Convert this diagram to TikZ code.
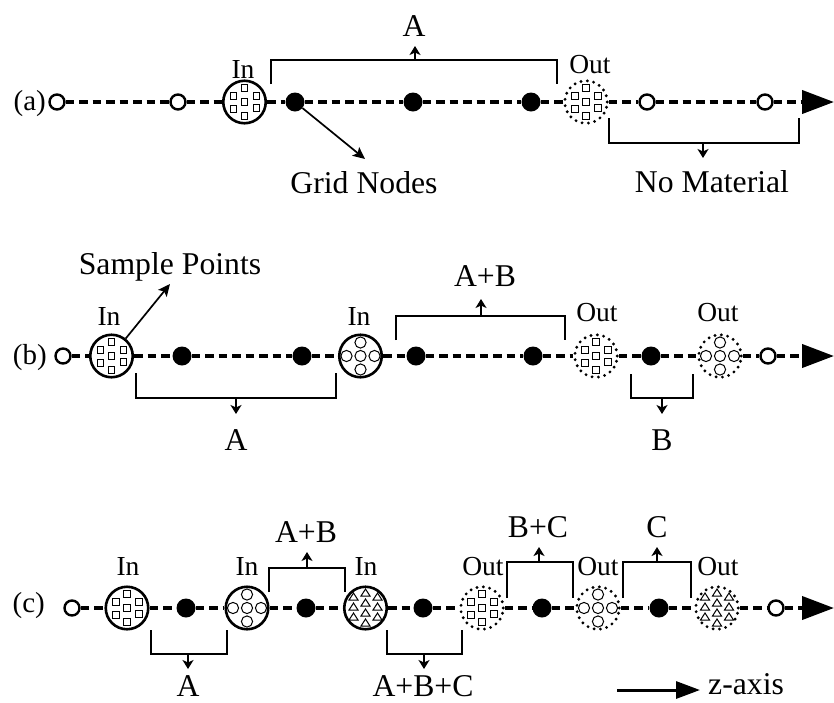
\documentclass[tikz,border=0pt]{standalone}
\usepackage{fontspec}
\setmainfont{Liberation Serif}
\usetikzlibrary{arrows.meta}
\tikzset{
  opennode/.style={circle,draw,line width=2.4pt,fill=white,minimum size=15pt,inner sep=0pt},
  gridnode/.style={circle,fill=black,minimum size=19pt,inner sep=0pt},
  innode/.style={circle,draw,line width=2.6pt,fill=white,minimum size=42.5pt,inner sep=0pt},
  outnode/.style={circle,draw,line width=3.2pt,dash pattern=on 0pt off 6.4pt,line cap=round,fill=white,minimum size=42.5pt,inner sep=0pt},
  axisline/.style={line width=4pt,dash pattern=on 8.5pt off 5pt},
  axisend/.style={axisline,-{Triangle[length=32pt,width=23pt]}},
  bracket/.style={line width=1.7pt},
  brarrow/.style={line width=1.7pt,-{Stealth[length=9pt,width=11pt,inset=2.5pt]}},
  ptr/.style={line width=1.7pt,-{Stealth[length=12pt,width=11pt,inset=2.5pt]}},
  lab/.style={font=\fontsize{31.7}{38}\selectfont,inner sep=0pt,anchor=base},
  iolab/.style={font=\fontsize{27.5}{32}\selectfont,inner sep=0pt,anchor=base},
  rowlab/.style={font=\fontsize{29}{34}\selectfont,inner sep=0pt,anchor=east},
  pat/.style={line width=1pt},
}
\newcommand\SqPat[1]{\foreach \dx/\dy in {0/-14,-11/-6,12/-6,0/0,-11/7,12/6,0/14}{\draw[pat] ([shift={(\dx,\dy)}]#1.center) +(-3.4,-3.4) rectangle +(3.4,3.4);}}
\newcommand\CiPat[1]{\foreach \dx/\dy in {0/0,-14/0,14/0,0/-13.5,0/13.5}{\draw[pat] ([shift={(\dx,\dy)}]#1.center) circle (5.6pt);}}
\newcommand\TriPat[1]{\foreach \dx/\dy in {0/-15,0/-5,0/5,0/15,-12/-11,12/-11,-12/-1,12/-1,-12/9,12/9}{\draw[pat] ([shift={(\dx,\dy)}]#1.center) +(-4.5,3) -- +(4.5,3) -- +(0,-4) -- cycle;}}
\begin{document}
\begin{tikzpicture}[x=1pt,y=-1pt]
\useasboundingbox (0,0) rectangle (834,702);
%% ---------------- row (a)
\node[rowlab] (la) at (46,104) {(a)};
\node[opennode] (a1) at (57,102) {};
\node[opennode] (a2) at (178,102) {};
\node[innode] (a3) at (244.5,102) {};
\node[gridnode] (a4) at (295,102) {};
\node[gridnode] (a5) at (413,102) {};
\node[gridnode] (a6) at (531,102) {};
\node[outnode] (a7) at (586,102) {};
\node[opennode] (a8) at (647,102) {};
\node[opennode] (a9) at (765,102) {};
\coordinate (aend) at (834,102);
\draw[axisline] (a1) -- (a2);
\draw[axisline] (a2) -- (a3);
\draw[axisline] (a3) -- (a4);
\draw[axisline] (a4) -- (a5);
\draw[axisline] (a5) -- (a6);
\draw[axisline] (a6) -- (a7);
\draw[axisline] (a7) -- (a8);
\draw[axisline] (a8) -- (a9);
\draw[axisend] (a9) -- (aend);
\SqPat{a3}\SqPat{a7}
\node[iolab] (ain) at (243,78) {In};
\node[iolab] (aout) at (590,73) {Out};
% bracket A
\draw[bracket] (271,84) -- (271,60) -- (557,60) -- (557,84);
\coordinate (aAm) at (415,60); \coordinate (aAt) at (415,46);
\draw[brarrow] (aAm) -- (aAt);
\node[lab] (aA) at (414,36) {A};
% grid nodes
\coordinate (gnt) at (365,159);
\draw[ptr] (a4) -- (gnt);
\node[lab] (gn) at (364,193) {Grid Nodes};
% no material
\draw[bracket] (609,118) -- (609,143) -- (799,143) -- (799,118);
\coordinate (nmm) at (703,143); \coordinate (nmt) at (703,158);
\draw[brarrow] (nmm) -- (nmt);
\node[lab] (nm) at (712,192) {No Material};
%% ---------------- row (b)
\node[rowlab] (lb) at (47,358) {(b)};
\node[opennode] (b1) at (63,356) {};
\node[innode] (b2) at (111.5,356) {};
\node[gridnode] (b3) at (182,356) {};
\node[gridnode] (b4) at (302,356) {};
\node[innode] (b5) at (360.5,356) {};
\node[gridnode] (b6) at (416,356) {};
\node[gridnode] (b7) at (533,356) {};
\node[outnode] (b8) at (596,356) {};
\node[gridnode] (b9) at (651,356) {};
\node[outnode] (b10) at (720,356) {};
\node[opennode] (b11) at (768,356) {};
\coordinate (bend) at (834,356);
\draw[axisline] (b1) -- (b2);
\draw[axisline] (b2) -- (b3);
\draw[axisline] (b3) -- (b4);
\draw[axisline] (b4) -- (b5);
\draw[axisline] (b5) -- (b6);
\draw[axisline] (b6) -- (b7);
\draw[axisline] (b7) -- (b8);
\draw[axisline] (b8) -- (b9);
\draw[axisline] (b9) -- (b10);
\draw[axisline] (b10) -- (b11);
\draw[axisend] (b11) -- (bend);
\SqPat{b2}\CiPat{b5}\SqPat{b8}\CiPat{b10}
\node[iolab] (bin1) at (109,325) {In};
\node[iolab] (bin2) at (359,325) {In};
\node[iolab] (bout1) at (597,321) {Out};
\node[iolab] (bout2) at (718,321) {Out};
% sample points
\coordinate (spt) at (170,284);
\draw[ptr] (b2) -- (spt);
\node[lab] (sp) at (170,274) {Sample Points};
% bracket A below
\draw[bracket] (136,373) -- (136,398) -- (336,398) -- (336,373);
\coordinate (bAm) at (236,398); \coordinate (bAt) at (236,414);
\draw[brarrow] (bAm) -- (bAt);
\node[lab] (bA) at (236,450) {A};
% bracket A+B above
\draw[bracket] (396,340) -- (396,316) -- (565,316) -- (565,340);
\coordinate (bABm) at (481,316); \coordinate (bABt) at (481,299);
\draw[brarrow] (bABm) -- (bABt);
\node[lab] (bAB) at (485,286) {A+B};
% bracket B below
\draw[bracket] (631,374) -- (631,398) -- (693,398) -- (693,374);
\coordinate (bBm) at (662,398); \coordinate (bBt) at (662,414);
\draw[brarrow] (bBm) -- (bBt);
\node[lab] (bB) at (662,450) {B};
%% ---------------- row (c)
\node[rowlab] (lc) at (45,606) {(c)};
\node[opennode] (c1) at (72,608) {};
\node[innode] (c2) at (127,608) {};
\node[gridnode] (c3) at (186,608) {};
\node[innode] (c4) at (247,608) {};
\node[gridnode] (c5) at (306,608) {};
\node[innode] (c6) at (365.5,608) {};
\node[gridnode] (c7) at (423,608) {};
\node[outnode] (c8) at (482,608) {};
\node[gridnode] (c9) at (542,608) {};
\node[outnode] (c10) at (598,608) {};
\node[gridnode] (c11) at (659,608) {};
\node[outnode] (c12) at (717,608) {};
\node[opennode] (c13) at (776,608) {};
\coordinate (cend) at (834,608);
\draw[axisline] (c1) -- (c2);
\draw[axisline] (c2) -- (c3);
\draw[axisline] (c3) -- (c4);
\draw[axisline] (c4) -- (c5);
\draw[axisline] (c5) -- (c6);
\draw[axisline] (c6) -- (c7);
\draw[axisline] (c7) -- (c8);
\draw[axisline] (c8) -- (c9);
\draw[axisline] (c9) -- (c10);
\draw[axisline] (c10) -- (c11);
\draw[axisline] (c11) -- (c12);
\draw[axisline] (c12) -- (c13);
\draw[axisend] (c13) -- (cend);
\SqPat{c2}\CiPat{c4}\TriPat{c6}\SqPat{c8}\CiPat{c10}\TriPat{c12}
\node[iolab] (cin1) at (128,575) {In};
\node[iolab] (cin2) at (247,575) {In};
\node[iolab] (cin3) at (366,575) {In};
\node[iolab] (cout1) at (483,575) {Out};
\node[iolab] (cout2) at (598,575) {Out};
\node[iolab] (cout3) at (718,575) {Out};
% A+B above
\draw[bracket] (269,592) -- (269,568) -- (345,568) -- (345,592);
\coordinate (cABm) at (307,568); \coordinate (cABt) at (307,552);
\draw[brarrow] (cABm) -- (cABt);
\node[lab] (cAB) at (306,542) {A+B};
% B+C above
\draw[bracket] (507,598) -- (507,562) -- (573,562) -- (573,598);
\coordinate (cBCm) at (539,562); \coordinate (cBCt) at (539,547);
\draw[brarrow] (cBCm) -- (cBCt);
\node[lab] (cBC) at (538,537) {B+C};
% C above
\draw[bracket] (623,598) -- (623,562) -- (691,562) -- (691,598);
\coordinate (cCm) at (657,562); \coordinate (cCt) at (657,547);
\draw[brarrow] (cCm) -- (cCt);
\node[lab] (cC) at (657,537) {C};
% A below
\draw[bracket] (151,630) -- (151,654) -- (227,654) -- (227,630);
\coordinate (cAm) at (188,654); \coordinate (cAt) at (188,669);
\draw[brarrow] (cAm) -- (cAt);
\node[lab] (cA) at (188,696) {A};
% A+B+C below
\draw[bracket] (387,630) -- (387,654) -- (462,654) -- (462,630);
\coordinate (cABCm) at (424,654); \coordinate (cABCt) at (424,669);
\draw[brarrow] (cABCm) -- (cABCt);
\node[lab] (cABC) at (423,696) {A+B+C};
% z-axis
\coordinate (z0) at (617,690); \coordinate (z1) at (700,690);
\draw[line width=3pt,-{Triangle[length=24pt,width=17pt]}] (z0) -- (z1);
\node[lab,anchor=base west] (zl) at (708,694) {z-axis};
\end{tikzpicture}
\end{document}
